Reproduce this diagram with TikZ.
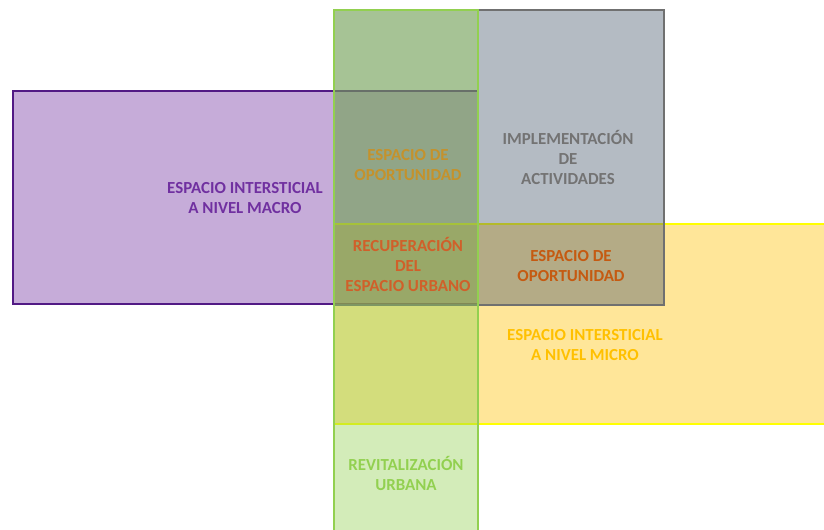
\documentclass[tikz,border=0pt]{standalone}
\usepackage{fontspec}
\setmainfont{Carlito}

\definecolor{morado}{HTML}{7030A0}
\definecolor{moradoborde}{HTML}{521A85}
\definecolor{gris}{HTML}{44546A}
\definecolor{grisborde}{HTML}{707070}
\definecolor{amarillo}{HTML}{FFC000}
\definecolor{amarilloborde}{HTML}{FFFF00}
\definecolor{verde}{HTML}{92D050}
\definecolor{dorado}{HTML}{C4922C}
\definecolor{naranja}{HTML}{D0602A}
\definecolor{naranjaosc}{HTML}{C55A11}
\definecolor{textogris}{HTML}{737373}

\begin{document}
\begin{tikzpicture}[x=0.025cm, y=-0.025cm,
    capa/.style={line width=1.7pt, fill opacity=0.4},
    rotulo/.style={font=\bfseries\fontsize{12}{14.2}\selectfont, align=center, inner sep=0pt}]
    \useasboundingbox (0,0) rectangle (824,529);
    \clip (0,0) rectangle (824,529);

    % capas translucidas
    \filldraw[capa, fill=morado, draw=moradoborde] (13,91) rectangle (478,304);
    \filldraw[capa, fill=amarillo, draw=amarilloborde] (334,224) rectangle (840,424);
    \filldraw[capa, fill=gris, draw=grisborde] (334,10) rectangle (664,305);
    \filldraw[capa, fill=verde, draw=verde] (334,10) rectangle (478,545);

    \node[rotulo, text=morado] (macro) at (245,198) {ESPACIO INTERSTICIAL\\A NIVEL MACRO};
    \node[rotulo, text=dorado] (oport1) at (408,165) {ESPACIO DE\\OPORTUNIDAD};
    \node[rotulo, text=textogris] (implem) at (568,157) {IMPLEMENTACIÓN\\DE\\ACTIVIDADES};
    \node[rotulo, text=naranja] (recup) at (408,264) {RECUPERACIÓN\\DEL\\ESPACIO URBANO};
    \node[rotulo, text=naranjaosc] (oport2) at (571,266) {ESPACIO DE\\OPORTUNIDAD};
    \node[rotulo, text=amarillo] (micro) at (585,345) {ESPACIO INTERSTICIAL\\A NIVEL MICRO};
    \node[rotulo, text=verde] (revital) at (406,473) {REVITALIZACIÓN\\URBANA};

\end{tikzpicture}
\end{document}
